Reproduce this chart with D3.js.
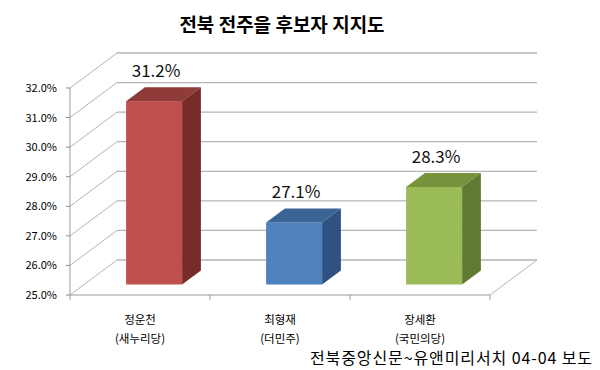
<!DOCTYPE html>
<html><head><meta charset="utf-8">
<script src="https://cdn.jsdelivr.net/npm/d3@7"></script>
<style>body{margin:0;background:#fff}svg{display:block}</style>
</head><body>
<svg id="c" width="600" height="370"></svg>
<script>
const title = "전북 전주을 후보자 지지도";
const names = ["정운천", "최형재", "장세환"];
const parties = ["(새누리당)", "(더민주)", "(국민의당)"];
const values = [31.2, 27.1, 28.3];
const yTicks = [25, 26, 27, 28, 29, 30, 31, 32];
const source = "전북중앙신문~유앤미리서치 04-04 보도";
const fronts = ["#C0504D", "#4F81BD", "#9BBB59"];
const tops = ["#8E3B3A", "#3B6496", "#77933C"];
const sides = ["#772C2A", "#2F5283", "#617A31"];

const svg = d3.select("#c");
const font = "'Noto Sans CJK KR','Noto Sans',sans-serif";
const x = d3.scaleBand().domain(names).range([70, 490]).padding(0);
const y = d3.scaleLinear().domain([25, 32]).range([295, 88]);
const depthX = d3.scaleLinear().domain([0, 1]).range([0, 47]);
const depthY = d3.scaleLinear().domain([0, 1]).range([0, -35]);
const grid = "#b4b4b4";

// back wall gridlines and left wall diagonals
yTicks.forEach(t => {
  svg.append("line").attr("x1", 70 + depthX(1)).attr("x2", 490 + depthX(1))
    .attr("y1", y(t) + depthY(1)).attr("y2", y(t) + depthY(1))
    .attr("stroke", grid).attr("stroke-width", 1.3);
  svg.append("line").attr("x1", 70).attr("y1", y(t))
    .attr("x2", 70 + depthX(1)).attr("y2", y(t) + depthY(1))
    .attr("stroke", grid).attr("stroke-width", 1);
  svg.append("line").attr("x1", 66).attr("x2", 70).attr("y1", y(t)).attr("y2", y(t))
    .attr("stroke", "#888");
  svg.append("text").attr("x", 57).attr("y", y(t) + 4).attr("text-anchor", "end")
    .attr("font-family", font).attr("font-size", 11).attr("fill", "#000")
    .text(t.toFixed(1) + "%");
});
// floor
svg.append("line").attr("x1", 490).attr("y1", y(25)).attr("x2", 490 + depthX(1)).attr("y2", y(25) + depthY(1))
  .attr("stroke", grid);
svg.append("line").attr("x1", 70).attr("y1", y(25)).attr("x2", 490).attr("y2", y(25)).attr("stroke", "#999");
svg.append("line").attr("x1", 70).attr("y1", y(32)).attr("x2", 70).attr("y2", y(25)).attr("stroke", "#999");
[0, 1, 2, 3].forEach(i => {
  const xx = i < names.length ? x(names[i]) : x.range()[1];
  svg.append("line").attr("x1", xx).attr("x2", xx).attr("y1", y(25)).attr("y2", y(25) + 5).attr("stroke", "#999");
});

// bars
const d0 = 0.3, d1 = 0.7;
names.forEach((n, i) => {
  const bw = x.bandwidth() * 0.4;
  const fx0 = x(n) + x.bandwidth() * 0.3 + depthX(d0);
  const fx1 = fx0 + bw;
  const fyT = y(values[i]) + depthY(d0);
  const fyB = y(25) + depthY(d0);
  const ddx = depthX(d1) - depthX(d0), ddy = depthY(d1) - depthY(d0);
  svg.append("rect").attr("x", fx0).attr("y", fyT).attr("width", bw).attr("height", fyB - fyT).attr("fill", fronts[i]);
  svg.append("polygon").attr("points", [[fx0, fyT], [fx1, fyT], [fx1 + ddx, fyT + ddy], [fx0 + ddx, fyT + ddy]].join(" "))
    .attr("fill", tops[i]);
  svg.append("polygon").attr("points", [[fx1, fyT], [fx1 + ddx, fyT + ddy], [fx1 + ddx, fyB + ddy], [fx1, fyB]].join(" "))
    .attr("fill", sides[i]);
  svg.append("text").attr("x", (fx0 + fx1) / 2 + 2).attr("y", fyT + ddy - 10)
    .attr("text-anchor", "middle").attr("font-family", font).attr("font-size", 17).attr("fill", "#111")
    .text(values[i].toFixed(1) + "%");
  const cx = x(n) + x.bandwidth() / 2;
  svg.append("text").attr("x", cx).attr("y", 324).attr("text-anchor", "middle")
    .attr("font-family", font).attr("font-size", 11.5).attr("fill", "#000").text(n);
  svg.append("text").attr("x", cx).attr("y", 343).attr("text-anchor", "middle")
    .attr("font-family", font).attr("font-size", 11.5).attr("fill", "#000").text(parties[i]);
});

svg.append("text").attr("x", 282).attr("y", 32).attr("text-anchor", "middle")
  .attr("font-family", font).attr("font-weight", "bold").attr("font-size", 19).attr("fill", "#000").text(title);
svg.append("text").attr("x", 593).attr("y", 364).attr("text-anchor", "end")
  .attr("font-family", font).attr("font-size", 16).attr("letter-spacing", 0.9).attr("fill", "#000").text(source);
</script>
</body></html>
